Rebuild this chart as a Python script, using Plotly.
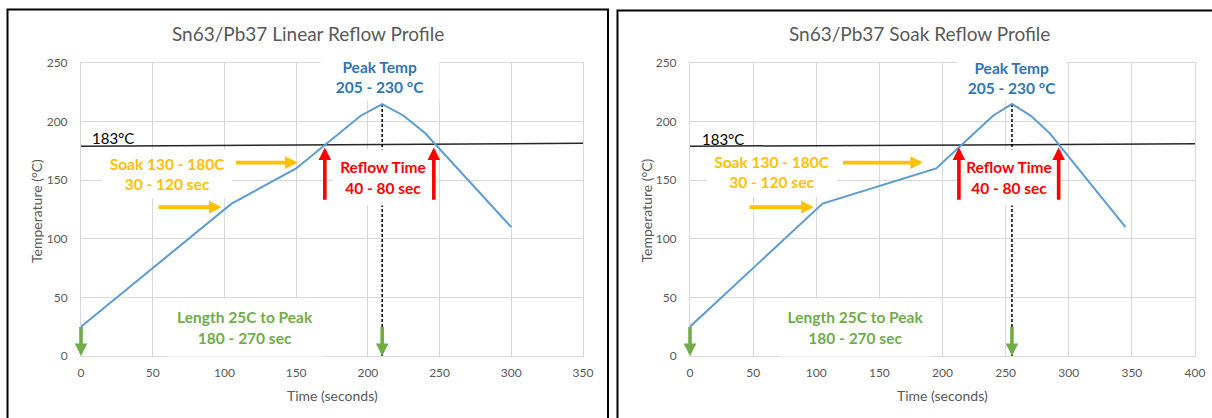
import plotly.graph_objects as go

# ---------------- data ----------------
linear_time = [0, 105, 150, 195, 210, 225, 240, 300]
linear_temp = [25, 130, 160, 205, 215, 205, 190, 110]

soak_time = [0, 105, 195, 240, 255, 270, 285, 345]
soak_temp = [25, 130, 160, 205, 215, 205, 190, 110]

liquidus_label = "183°C"
linear_liquidus_time = [0, 350]
linear_liquidus_temp = [179, 181.5]
soak_liquidus_time = [0, 400]
soak_liquidus_temp = [179, 181]

linear_peak_time = 210
soak_peak_time = 255
peak_temp = 215

y_ticks = [0, 50, 100, 150, 200, 250]
linear_x_ticks = [0, 50, 100, 150, 200, 250, 300, 350]
soak_x_ticks = [0, 50, 100, 150, 200, 250, 300, 350, 400]

titles = ["Sn63/Pb37 Linear Reflow Profile", "Sn63/Pb37 Soak Reflow Profile"]
x_title = "Time (seconds)"
y_title = "Temperature (°C)"

peak_text = "Peak Temp<br>205 - 230 °C"
soak_text = "Soak 130 - 180C<br>30 - 120 sec"
reflow_text = "Reflow Time<br>40 - 80 sec"
length_text = "Length 25C to Peak<br>180 - 270 sec"

# arrow data (time, temperature)
linear_reflow_arrow_time = [170, 246]
soak_reflow_arrow_time = [213, 292]
reflow_arrow_temp = [132, 178]
linear_soak_arrows = [((53, 127), (98, 127)), ((107, 165), (151, 165))]
soak_soak_arrows = [((46, 127), (98, 127)), ((120, 165), (184.5, 165))]
length_arrow_temp = [26, 0]

# ---------------- styles ----------------
FONT = "Lato, 'Open Sans', sans-serif"
GRAY = "#595959"
GRID = "#D9D9D9"
BLUE_LINE = "#5B9BD5"
BLUE_TXT = "#2E75B6"
ORANGE = "#FFC000"
RED = "#FF0000"
GREEN = "#70AD47"
W, H = 1212, 418

fig = go.Figure()

panels = [
    dict(time=linear_time, temp=linear_temp, liq_t=linear_liquidus_time, liq_y=linear_liquidus_temp,
         peak_t=linear_peak_time, reflow_t=linear_reflow_arrow_time, soak_arrows=linear_soak_arrows,
         xticks=linear_x_ticks, xr="x", yr="y",
         pos=dict(peak=(208.5, 238), soak=(60, 155.3), reflow=(210.3, 152.7), length=(114.4, 24.7), liq=(22.2, 185.8)),
         box=dict(peak=118, soak=129, reflow=98, length=154)),
    dict(time=soak_time, temp=soak_temp, liq_t=soak_liquidus_time, liq_y=soak_liquidus_temp,
         peak_t=soak_peak_time, reflow_t=soak_reflow_arrow_time, soak_arrows=soak_soak_arrows,
         xticks=soak_x_ticks, xr="x2", yr="y2",
         pos=dict(peak=(254.7, 237.2), soak=(64.6, 156.6), reflow=(252.3, 151.9), length=(131.1, 24.3), liq=(26.1, 185.2)),
         box=dict(peak=108, soak=128, reflow=96, length=153)),
]

annotations = []
for p in panels:
    # 183 line
    fig.add_trace(go.Scatter(x=p["liq_t"], y=p["liq_y"], mode="lines",
                             line=dict(color="#262626", width=1.5), xaxis=p["xr"], yaxis=p["yr"],
                             hoverinfo="skip"))
    # dashed peak line
    fig.add_trace(go.Scatter(x=[p["peak_t"], p["peak_t"]], y=[peak_temp, 0], mode="lines",
                             line=dict(color="#000000", width=1.5, dash="3px,2px"),
                             xaxis=p["xr"], yaxis=p["yr"], hoverinfo="skip"))
    # profile curve
    fig.add_trace(go.Scatter(x=p["time"], y=p["temp"], mode="lines",
                             line=dict(color=BLUE_LINE, width=2), xaxis=p["xr"], yaxis=p["yr"]))

    def label(key, text, color, bold=True, width=None, height=None, size=15.5):
        x, y = p["pos"][key]
        a = dict(x=x, y=y, xref=p["xr"], yref=p["yr"], text=("<b>%s</b>" % text) if bold else text,
                 showarrow=False, font=dict(family=FONT, size=size, color=color),
                 xanchor="center", yanchor="middle", borderpad=0)
        if width:
            a.update(width=width, height=height, bgcolor="white", align="center", valign="middle")
        annotations.append(a)

    label("peak", peak_text, BLUE_TXT, width=p["box"]["peak"], height=46)
    label("soak", soak_text, ORANGE, width=p["box"]["soak"], height=48)
    label("reflow", reflow_text, RED, width=p["box"]["reflow"], height=55)
    label("length", length_text, GREEN, width=p["box"]["length"], height=57)
    label("liq", liquidus_label, "#000000", bold=False, size=15)

    def arrow(tail, head, color):
        annotations.append(dict(x=head[0], y=head[1], ax=tail[0], ay=tail[1],
                                xref=p["xr"], yref=p["yr"], axref=p["xr"], ayref=p["yr"],
                                text="", showarrow=True, arrowhead=2, arrowsize=0.7,
                                arrowwidth=3.6, arrowcolor=color, standoff=0))

    for t in p["reflow_t"]:
        arrow((t, reflow_arrow_temp[0]), (t, reflow_arrow_temp[1]), RED)
    for tail, head in p["soak_arrows"]:
        arrow(tail, head, ORANGE)
    for t in [0, p["peak_t"]]:
        arrow((t, length_arrow_temp[0]), (t, length_arrow_temp[1]), GREEN)

# chart titles and axis titles (paper-positioned text)
for cx, title in zip([307.5, 919], titles):
    annotations.append(dict(x=cx / W, y=1 - 34 / H, xref="paper", yref="paper", text=title,
                            showarrow=False, font=dict(family=FONT, size=19, color=GRAY),
                            xanchor="center", yanchor="middle"))
for cx in [332, 942.5]:
    annotations.append(dict(x=cx / W, y=1 - 395 / H, xref="paper", yref="paper", text=x_title,
                            showarrow=False, font=dict(family=FONT, size=14, color=GRAY),
                            xanchor="center", yanchor="middle"))
for cx in [36, 645.5]:
    annotations.append(dict(x=cx / W, y=1 - 211 / H, xref="paper", yref="paper", text=y_title,
                            showarrow=False, textangle=-90, font=dict(family=FONT, size=14, color=GRAY),
                            xanchor="center", yanchor="middle"))

shapes = [
    dict(type="rect", xref="paper", yref="paper", x0=7.5 / W, x1=608 / W, y0=-0.05, y1=1 - 9.5 / H,
         line=dict(color="black", width=2), layer="above"),
    dict(type="rect", xref="paper", yref="paper", x0=617.5 / W, x1=1.05, y0=-0.05, y1=1 - 10.5 / H,
         line=dict(color="black", width=2), layer="above"),
]

ydom = [1 - 356 / H, 1 - 63 / H]

def xaxis(domain, ticks, rng, anchor):
    return dict(domain=domain, range=rng, tickvals=ticks, showgrid=True, gridcolor=GRID, gridwidth=1,
                zeroline=False, showline=True, linecolor=GRID, linewidth=1, mirror=True, automargin=False,
                ticks="", ticklabelstandoff=6, tickfont=dict(family=FONT, size=12, color=GRAY),
                anchor=anchor, fixedrange=True)

def yaxis(anchor):
    return dict(domain=ydom, range=[0, 250], tickvals=y_ticks, showgrid=True, gridcolor=GRID, gridwidth=1,
                zeroline=False, showline=True, linecolor=GRID, linewidth=1, mirror=True, automargin=False,
                ticks="", ticklabelstandoff=10, tickfont=dict(family=FONT, size=12, color=GRAY),
                anchor=anchor, fixedrange=True)

fig.update_layout(
    width=W, height=H, margin=dict(l=0, r=0, t=0, b=0, autoexpand=False),
    paper_bgcolor="white", plot_bgcolor="white", showlegend=False,
    xaxis=xaxis([81 / W, 583 / W], linear_x_ticks, [0, 350], "y"),
    yaxis=yaxis("x"),
    xaxis2=xaxis([690 / W, 1195 / W], soak_x_ticks, [0, 400], "y2"),
    yaxis2=yaxis("x2"),
    annotations=annotations, shapes=shapes,
)

fig.write_html("out.html", config={"displayModeBar": False},
               post_script="document.body.style.margin='0';document.body.style.overflow='hidden';")
